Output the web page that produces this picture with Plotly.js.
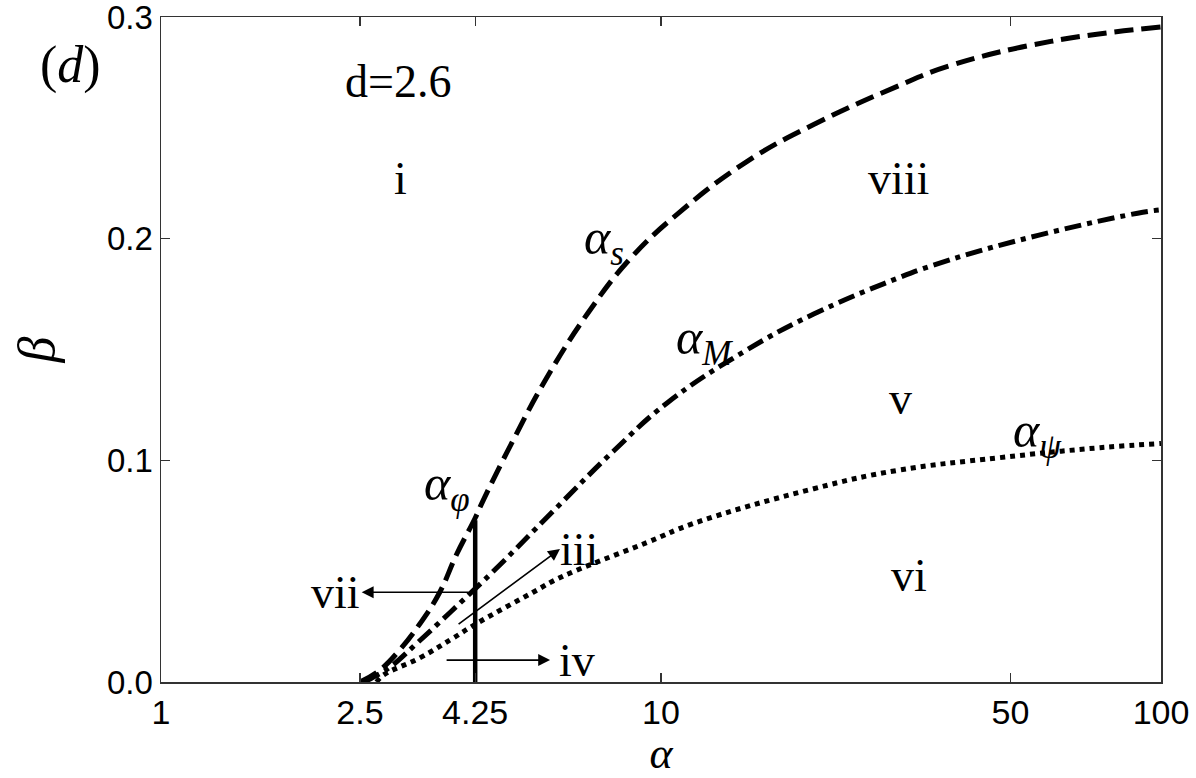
<!DOCTYPE html>
<html>
<head>
<meta charset="utf-8">
<script src="https://cdn.plot.ly/plotly-3.0.1.min.js"></script>
<style>
  body { margin: 0; background: #fff; }
  #graph { width: 1196px; height: 778px; }
</style>
</head>
<body>
<div id="graph"></div>
<script>
// phase boundaries (alpha on log axis, beta linear)
// dashed boundary: alpha_phi below alpha = 4.25, alpha_s above
const phiAlpha = [2.5, 2.74, 3.0, 3.3, 3.61, 3.9, 4.25];
const phiBeta = [0.0, 0.0054, 0.0144, 0.0265, 0.0405, 0.0575, 0.074];

const sAlpha = [4.25, 4.4, 5.06, 5.9, 7.12, 8.68, 10.9, 14.9, 20.2, 29.6, 37.8, 60.2, 100];
const sBeta = [0.074, 0.0815, 0.109, 0.137, 0.166, 0.191, 0.212, 0.235, 0.2515, 0.2686, 0.278, 0.289, 0.2955];

const mAlpha = [2.55, 2.65, 2.87, 3.25, 4.2, 4.77, 6.08, 8.02, 10.3, 14.9, 20.2, 29.6, 35, 51.4, 89.8, 100];
const mBeta = [0.0, 0.002, 0.0067, 0.0175, 0.041, 0.053, 0.077, 0.104, 0.126, 0.150, 0.166, 0.182, 0.188, 0.199, 0.2115, 0.213];

const psiAlpha = [2.7, 2.78, 3.3, 3.84, 4.25, 5.55, 6.27, 9.39, 11.6, 20.2, 29.6, 47.6, 75.5, 100];
const psiBeta = [0.0, 0.003, 0.011, 0.0198, 0.026, 0.0405, 0.047, 0.063, 0.0715, 0.0872, 0.0954, 0.1012, 0.1057, 0.1076];

const cutAlpha = [4.25, 4.25];
const cutBeta = [0.0, 0.073];

const xTicks = [1, 2.5, 4.25, 10, 50, 100];
const xTickText = ['1', '2.5', '4.25', '10', '50', '100'];

// region labels: [text, alpha, beta]
const regionLabels = [
  ['d=2.6', 2.98, 0.271],
  ['i', 3.01, 0.227],
  ['viii', 29.8, 0.227],
  ['v', 30.1, 0.128],
  ['vi', 31.4, 0.048]
];

const curveLabels = [
  ['<i>α</i><sub><i>s</i></sub>', 7.7, 0.199],
  ['<i>α</i><sub><i>M</i></sub>', 12.2, 0.154],
  ['<i>α</i><sub><i>φ</i></sub>', 3.73, 0.088],
  ['<i>α</i><sub><i>ψ</i></sub>', 56.5, 0.112]
];

// arrows: [label, labelAlpha, tailAlpha, tailBeta, headAlpha, headBeta]
const arrows = [
  ['vii', 2.23, 4.15, 0.0405, 2.52, 0.0405],
  ['iii', 6.85, 3.91, 0.0256, 6.28, 0.060],
  ['iv', 6.8, 3.70, 0.0099, 6.0, 0.0099]
];

const serif = 'Liberation Serif, Times New Roman, serif';

function line(x, y, dash) {
  return {
    x: x, y: y, type: 'scatter', mode: 'lines',
    line: { color: '#000', width: 5, dash: dash, shape: 'spline', smoothing: 1.2 },
    hoverinfo: 'skip', showlegend: false
  };
}

const traces = [
  line(phiAlpha.concat(sAlpha.slice(1)), phiBeta.concat(sBeta.slice(1)), '19px,8px'),
  line(mAlpha, mBeta, '17px,6px,5px,6px'),
  line(psiAlpha, psiBeta, '5px,5px'),
  { x: cutAlpha, y: cutBeta, type: 'scatter', mode: 'lines',
    line: { color: '#000', width: 4.5 }, hoverinfo: 'skip', showlegend: false }
];

const annotations = [];
regionLabels.forEach(r => {
  annotations.push({
    text: r[0], x: Math.log10(r[1]), y: r[2], xref: 'x', yref: 'y',
    showarrow: false, font: { family: serif, size: 46, color: '#000' }
  });
});
curveLabels.forEach(c => {
  annotations.push({
    text: c[0], x: Math.log10(c[1]), y: c[2], xref: 'x', yref: 'y',
    showarrow: false, font: { family: serif, size: 50, color: '#000' }
  });
});
arrows.forEach(a => {
  annotations.push({
    text: '', x: Math.log10(a[4]), y: a[5], ax: Math.log10(a[2]), ay: a[3],
    xref: 'x', yref: 'y', axref: 'x', ayref: 'y',
    showarrow: true, arrowhead: 2, arrowsize: 1.4, arrowwidth: 1.7, arrowcolor: '#000'
  });
  annotations.push({
    text: a[0], x: Math.log10(a[1]), y: a[5], xref: 'x', yref: 'y',
    showarrow: false, font: { family: serif, size: 46, color: '#000' }
  });
});
annotations.push({
  text: '(<i>d</i>)', x: -0.123, y: 0.975, xref: 'paper', yref: 'paper',
  showarrow: false, font: { family: serif, size: 52, color: '#000' }
});

const axisCommon = {
  showline: true, linecolor: '#333', linewidth: 1.5, mirror: 'ticks',
  ticks: 'inside', ticklen: 9, tickwidth: 1.2, tickcolor: '#333',
  showgrid: false, zeroline: false, ticklabeloverflow: 'allow'
};

const layout = {
  width: 1196, height: 778,
  margin: { l: 161, r: 35, t: 17, b: 96 },
  paper_bgcolor: '#fff', plot_bgcolor: '#fff',
  xaxis: Object.assign({}, axisCommon, {
    type: 'log', range: [0, 2],
    tickvals: xTicks, ticktext: xTickText, ticklabelstandoff: 0,
    tickfont: { family: 'Liberation Sans, Arial, sans-serif', size: 34, color: '#000' },
    title: { text: '<i>α</i>', font: { family: serif, size: 44, color: '#000' }, standoff: 14 }
  }),
  yaxis: Object.assign({}, axisCommon, {
    range: [0, 0.3], tickvals: [0, 0.1, 0.2, 0.3], tickformat: '.1f',
    tickfont: { family: 'Liberation Sans, Arial, sans-serif', size: 33, color: '#000' },
    title: { text: '<i>β</i>', font: { family: serif, size: 52, color: '#000' }, standoff: 36 }
  }),
  annotations: annotations
};

Plotly.newPlot('graph', traces, layout, { staticPlot: true });
</script>
</body>
</html>
